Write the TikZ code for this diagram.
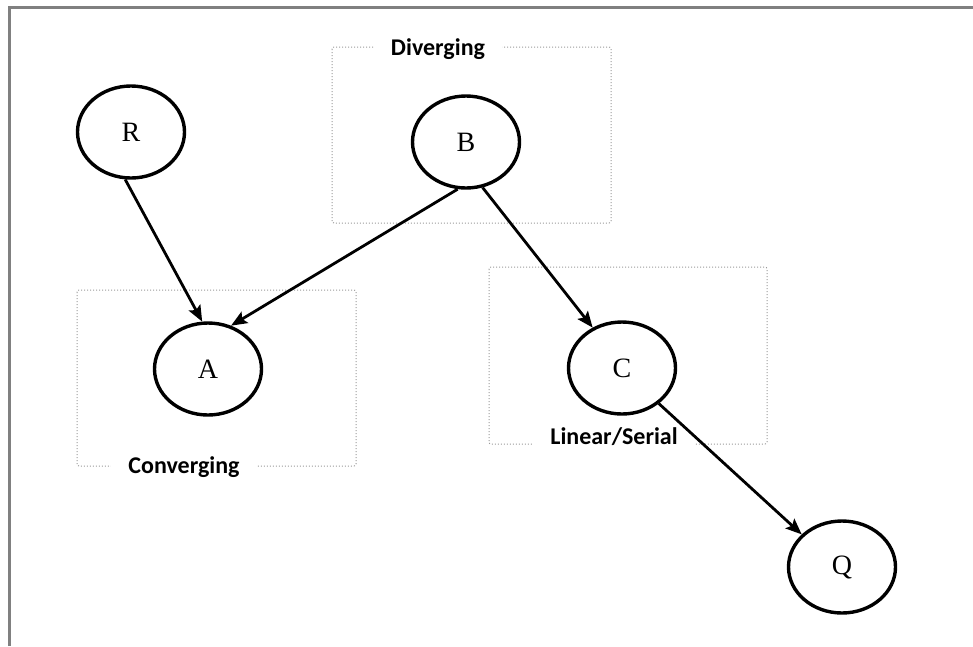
\documentclass[tikz,border=0pt]{standalone}
\usepackage{fontspec}
\newfontfamily\lblfont{Carlito}
\newfontfamily\varfont{Liberation Serif}
\usetikzlibrary{shapes.geometric,arrows.meta}
\definecolor{framegray}{HTML}{808080}
\definecolor{boxgray}{HTML}{9A9A9A}
\tikzset{
  var/.style={ellipse, draw=black, line width=3.4pt, minimum width=107pt,
    minimum height=92pt, inner sep=0pt, font=\varfont\fontsize{28}{30}\selectfont},
  grp/.style={draw=boxgray, line width=1pt, dotted, rounded corners=2pt},
  grplabel/.style={fill=white, inner xsep=17pt, inner ysep=1pt,
    font=\lblfont\bfseries\fontsize{24}{28}\selectfont},
  edge/.style={line width=2.8pt, -{Stealth[length=16pt,width=13pt,inset=3pt]}},
}
\begin{document}
\begin{tikzpicture}[x=1pt,y=-1pt]
  \useasboundingbox (0,0) rectangle (973,646);
  % outer frame (top and left edges)
  \draw[framegray, line width=3pt] (9.5,646) -- (9.5,7.5) -- (973,7.5);

  % group boxes
  \draw[grp] (332,47) rectangle (611,223);
  \draw[grp] (77,290) rectangle (356,466);
  \draw[grp] (489,267) rectangle (767,444);
  \node[grplabel] (ldiv) at (438,49) {Diverging};
  \node[grplabel] (lconv) at (184,467) {Converging};
  \node[grplabel] (llin) at (614,437) {Linear/Serial};

  % variables
  \node[var] (R) at (131,132) {R};
  \node[var] (B) at (466,142) {B};
  \node[var] (A) at (208,369) {A};
  \node[var] (C) at (622,368) {C};
  \node[var] (Q) at (842,567) {Q};

  % dependencies
  \draw[edge] (R.263) -- (A.97);
  \draw[edge] (B.260) -- (A.62);
  \draw[edge] (B.290) -- (C.126);
  \draw[edge] (C.-44) -- (Q.141);
\end{tikzpicture}
\end{document}
